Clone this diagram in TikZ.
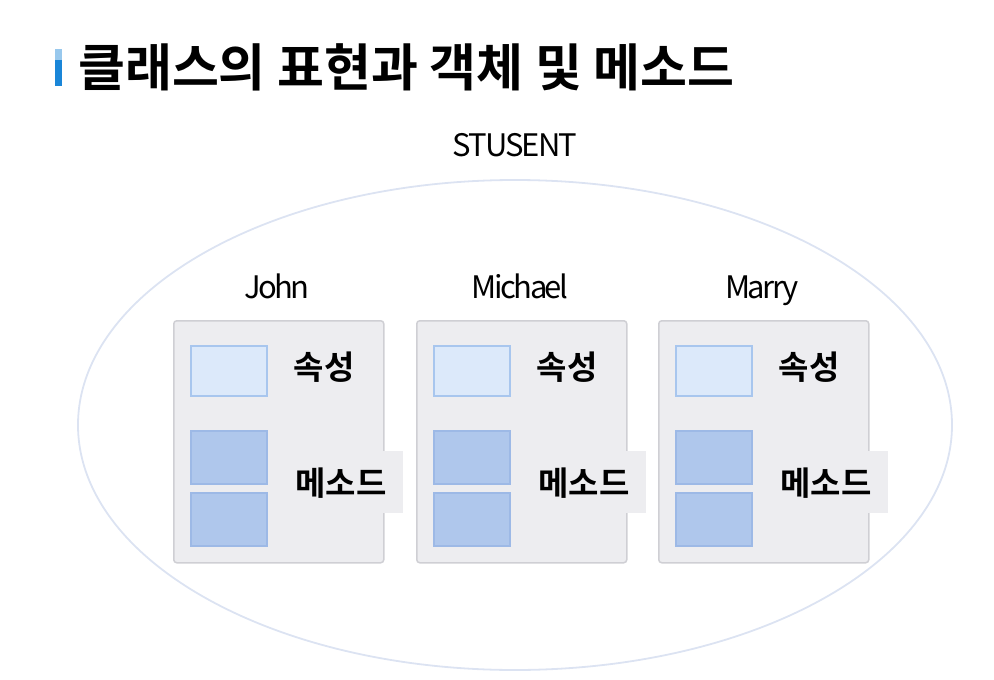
\documentclass[tikz,border=0pt]{standalone}
\usepackage{fontspec}
\setmainfont{Noto Sans CJK KR}
\newfontfamily\krbold{Noto Sans CJK KR Bold}
\usetikzlibrary{calc}
\definecolor{objfill}{HTML}{EDEDF0}
\definecolor{objdraw}{HTML}{CFCFD4}
\definecolor{attrfill}{HTML}{DCE9FA}
\definecolor{attrdraw}{HTML}{A8C6EE}
\definecolor{methfill}{HTML}{AFC7EC}
\definecolor{methdraw}{HTML}{9DB9E6}
\definecolor{ringdraw}{HTML}{DCE3F2}
\definecolor{barblue}{HTML}{1A86D8}
\tikzset{
	objstyle/.style={rectangle,rounded corners=3pt,draw=objdraw,line width=1.5pt,fill=objfill,minimum width=210pt,minimum height=242pt,anchor=north west},
	attrstyle/.style={rectangle,draw=attrdraw,line width=1.5pt,fill=attrfill,minimum width=76pt,minimum height=50pt,anchor=north west},
	methstyle/.style={rectangle,draw=methdraw,line width=1.5pt,fill=methfill,minimum width=76pt,minimum height=53pt,anchor=north west},
	labelstyle/.style={font=\krbold\fontsize{33}{33}\selectfont,inner sep=0pt},
	patchstyle/.style={rectangle,fill=objfill,minimum width=113pt,minimum height=62pt,anchor=north west},
	namestyle/.style={font=\fontsize{31}{31}\selectfont,inner sep=0pt,anchor=base}
}

\begin{document}
\begin{tikzpicture}[x=1pt,y=-1pt]
		\useasboundingbox (0,0) rectangle (994,680);
		% title
		\fill[barblue!45] (55,49) rectangle (62,60);
		\fill[barblue] (55,60) rectangle (62,86);
		\node[anchor=west,inner sep=0pt,font=\krbold\fontsize{51}{51}\selectfont] (title) at (78,67) {클래스의 표현과 객체 및 메소드};
		% class
		\node[namestyle,font=\fontsize{31}{31}\selectfont\addfontfeatures{LetterSpace=-6}] (cls) at (515,156) {STUSENT};
		\draw[ringdraw,line width=1.8pt] (515,425) ellipse [x radius=437, y radius=245];
		% objects
		\foreach \x/\nm/\id in {173/John/john,416/Michael/michael,658/Marry/marry}{
			\node[namestyle,font=\fontsize{31}{31}\selectfont\addfontfeatures{LetterSpace=-8}] (\id-name) at (\x+104,298) {\nm};
			\node[objstyle] (\id) at (\x,320) {};
			\node[attrstyle] (\id-attr) at (\x+17,345) {};
			\node[methstyle] (\id-m1) at (\x+17,430) {};
			\node[methstyle] (\id-m2) at (\x+17,492) {};
			\node[patchstyle] (\id-patch) at (\x+117,451) {};
			\node[labelstyle] (\id-attrlabel) at (\x+151,367) {속성};
			\node[labelstyle] (\id-methlabel) at (\x+168,483) {메소드};
		}
		\end{tikzpicture}
\end{document}
